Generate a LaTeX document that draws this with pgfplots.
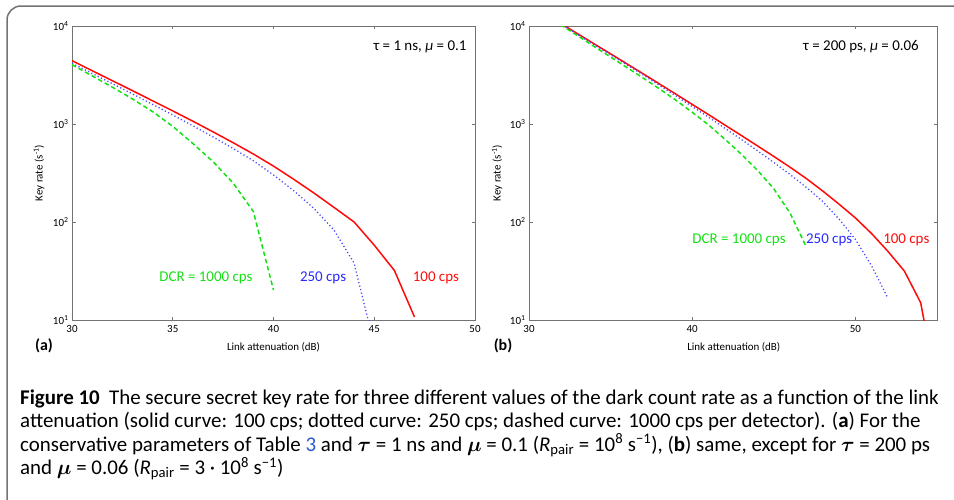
\documentclass[border=0pt]{standalone}
\usepackage{pgfplots}
\pgfplotsset{compat=1.18}
\usepackage{amsmath}
\usepackage{fontspec}
\setmainfont{Carlito}

\definecolor{cred}{RGB}{255,10,10}
\definecolor{cblue}{RGB}{40,40,255}
\definecolor{cgreen}{RGB}{20,225,20}
\definecolor{linkblue}{RGB}{40,90,210}

\tikzset{
  redline/.style={cred, line width=1.5bp},
  blueline/.style={cblue!85!white, line width=1.3bp, dash pattern=on 1.2bp off 2.4bp},
  greenline/.style={cgreen, line width=1.5bp, dash pattern=on 4.5bp off 3bp},
  lbl/.style={font=\fontsize{15}{17}\selectfont},
  captxt/.style={anchor=base west, inner sep=0pt, font=\fontsize{21}{24}\selectfont},
}

\begin{document}
\begin{tikzpicture}
\path[use as bounding box] (0,0) rectangle (954bp,-500bp);
\draw[black!55, line width=1.5bp, rounded corners=14bp] (7bp,-6bp) rectangle (990bp,-515bp);

% panel (a)
\begin{axis}[at={(72bp,-320bp)}, anchor=south west,
  scale only axis, width=403bp, height=294bp,
  ymode=log, ymin=10, ymax=10000, xmin=30, xmax=50,
  xtick={30,35,40,45,50}, xticklabels={30,35,40,45,50},
  ytick={10,100,1000,10000},
  yticklabels={10\textsuperscript{1},10\textsuperscript{2},10\textsuperscript{3},10\textsuperscript{4}},
  yminorticks=false,
  tick align=inside, major tick length=3.5bp,
  axis line style={black!55, line width=0.6bp},
  every tick/.append style={black!55, line width=0.6bp},
  tick label style={font=\fontsize{11}{12}\selectfont},
  xticklabel style={yshift=-2bp},
  xlabel={Link attenuation (dB)},
  ylabel={Key rate (s\textsuperscript{-1})},
  label style={font=\fontsize{11}{12}\selectfont},
  xlabel style={at={(axis description cs:0.5,-0.092)}, anchor=center},
  ylabel style={at={(axis description cs:-0.082,0.5)}, anchor=center},
]
\addplot[redline] coordinates {
(30,4430) (31,3500) (32,2770) (33,2190) (34,1726) (35,1361) (36,1067)
(37,832) (38,644) (39,494) (40,372) (41,273) (42,198) (43,141)
(44,100) (45,58) (46,32) (47,10.7)};
\addplot[blueline] coordinates {
(30,4170) (31,3281) (32,2582) (33,2028) (34,1585) (35,1236) (36,959)
(37,738) (38,562) (39,422) (40,302) (41,209) (42,138) (43,83)
(44,38) (45,5.6)};
\addplot[greenline] coordinates {
(30,4036) (31,3097) (32,2377) (33,1803) (34,1337) (35,946) (36,632)
(37,413) (38,249) (39,128) (40,20.2)};
\node[lbl, anchor=east] at (axis cs:49.75,6100) {τ = 1 ns, \textit{μ} = 0.1};
\node[lbl, text=cgreen] at (axis cs:36.65,27) {DCR = 1000 cps};
\node[lbl, text=cblue] at (axis cs:42.46,27) {250 cps};
\node[lbl, text=cred] at (axis cs:48.06,27) {100 cps};
\end{axis}

% panel (b)
\begin{axis}[at={(529bp,-320bp)}, anchor=south west,
  scale only axis, width=408bp, height=294bp,
  ymode=log, ymin=10, ymax=10000, xmin=30, xmax=55,
  xtick={30,40,50}, xticklabels={30,40,50},
  ytick={10,100,1000,10000},
  yticklabels={10\textsuperscript{1},10\textsuperscript{2},10\textsuperscript{3},10\textsuperscript{4}},
  yminorticks=false,
  tick align=inside, major tick length=3.5bp,
  axis line style={black!55, line width=0.6bp},
  every tick/.append style={black!55, line width=0.6bp},
  tick label style={font=\fontsize{11}{12}\selectfont},
  xticklabel style={yshift=-2bp},
  xlabel={Link attenuation (dB)},
  ylabel={Key rate (s\textsuperscript{-1})},
  label style={font=\fontsize{11}{12}\selectfont},
  xlabel style={at={(axis description cs:0.502,-0.092)}, anchor=center},
  ylabel style={at={(axis description cs:-0.078,0.5)}, anchor=center},
]
\addplot[redline] coordinates {
(30,16710) (31,13240) (32,10470) (33,8300) (34,6560) (35,5200) (36,4110)
(37,3250) (38,2560) (39,2018) (40,1585) (41,1247) (42,977) (43,766)
(44,598) (45,467) (46,362) (47,277) (48,207) (49,152) (50,110)
(51,76) (52,50) (53,31.6) (54,15) (55,1.95)};
\addplot[blueline] coordinates {
(30,16520) (31,13060) (32,10300) (33,8150) (34,6430) (35,5080) (36,4018)
(37,3162) (38,2472) (39,1936) (40,1507) (41,1172) (42,906) (43,698)
(44,533) (45,405) (46,305) (47,225) (48,162) (49,107) (50,66.5)
(51,35.5) (52,16.6)};
\addplot[greenline] coordinates {
(30,16520) (31,12940) (32,10120) (33,7925) (34,6166) (35,4819) (36,3767)
(37,2944) (38,2280) (39,1750) (40,1318) (41,979) (42,700) (43,494)
(44,337) (45,218) (46,123) (47,55.3)};
\node[lbl, anchor=east] at (axis cs:54.1,6100) {τ = 200 ps, \textit{μ} = 0.06};
\node[lbl, text=cgreen] at (axis cs:42.87,66.5) {DCR = 1000 cps};
\node[lbl, text=cblue] at (axis cs:48.39,66.5) {250 cps};
\node[lbl, text=cred] at (axis cs:53.12,66.5) {100 cps};
\end{axis}

\node[font=\bfseries\fontsize{16}{18}\selectfont] at (44bp,-346bp) {(a)};
\node[font=\bfseries\fontsize{16}{18}\selectfont] at (503bp,-346bp) {(b)};

% caption
\node[captxt] at (20bp,-404bp) {\textbf{Figure 10}\hspace{0.45em}The secure secret key rate for three different values of the dark count rate as a function of the link};
\node[captxt] at (20bp,-427.5bp) {attenuation (solid curve: 100 cps; dotted curve: 250 cps; dashed curve: 1000 cps per detector). (\textbf{a}) For the};
\node[captxt] at (20bp,-451bp) {conservative parameters of Table \textcolor{linkblue}{3} and $\boldsymbol{\tau}$ = 1 ns and $\boldsymbol{\mu}$ = 0.1 (\textit{R}\textsubscript{pair} = 10\textsuperscript{8} s\textsuperscript{−1}), (\textbf{b}) same, except for $\boldsymbol{\tau}$ = 200 ps};
\node[captxt] at (20bp,-474.5bp) {and $\boldsymbol{\mu}$ = 0.06 (\textit{R}\textsubscript{pair} = 3 · 10\textsuperscript{8} s\textsuperscript{−1})};
\end{tikzpicture}
\end{document}
